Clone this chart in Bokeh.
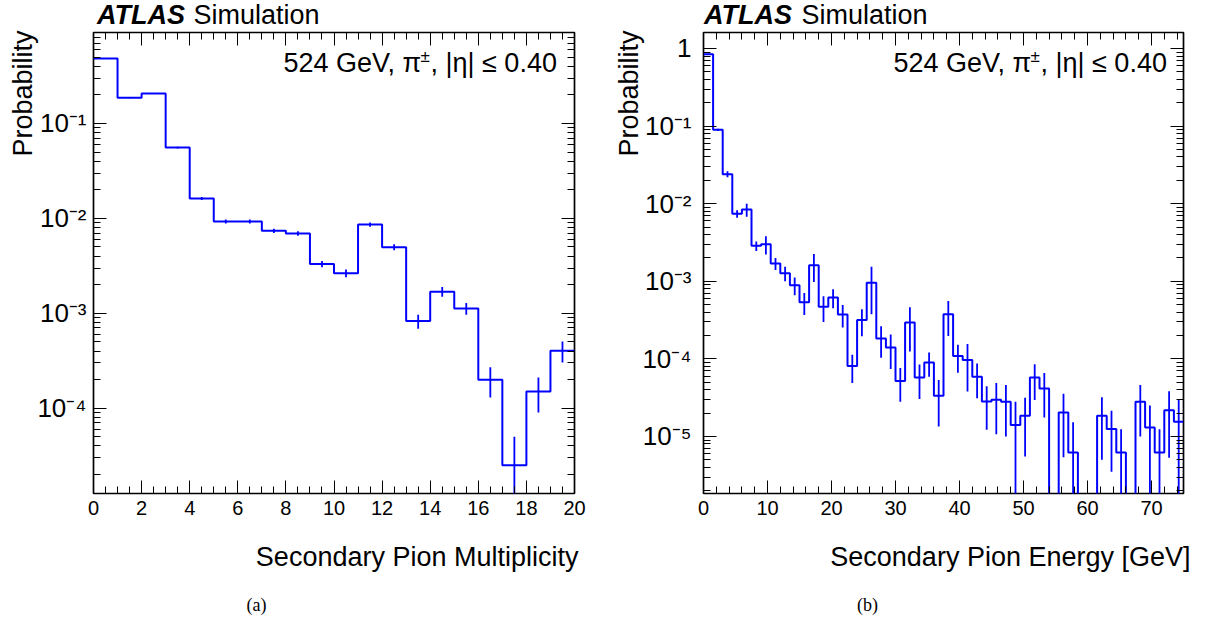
import numpy as np
from bokeh.plotting import figure
from bokeh.models import (FixedTicker, SingleIntervalTicker, LinearAxis, LogAxis,
                          Label, ColumnDataSource, CustomJSTickFormatter, Range1d)
from bokeh.layouts import row
from bokeh.embed import file_html
from bokeh.resources import INLINE

# ---------------- data: panel (a) secondary pion multiplicity ----------------
mult_edges = list(range(0, 21))
mult_prob = [0.484, 0.187, 0.207, 0.0558, 0.0162, 0.00927, 0.00927, 0.0074, 0.00693,
             0.0033, 0.00265, 0.00862, 0.00498, 0.000828, 0.00169, 0.001125, 0.0002,
             2.5e-5, 0.00015, 0.000403]
mult_err = [0.0035, 0.0022, 0.0023, 0.0012, 0.0006, 0.00045, 0.00045, 0.00038, 0.00037,
            0.00025, 0.00025, 0.00045, 0.00035, 0.00014, 0.0002, 0.00016, 7e-5,
            2.5e-5, 6e-5, 1e-4]
mult_xticks = [0, 2, 4, 6, 8, 10, 12, 14, 16, 18, 20]

# ---------------- data: panel (b) secondary pion energy [GeV] ----------------
energy_bin_width = 1.5
energy_prob = [0.845, 0.0895, 0.0240, 0.0074, 0.0084, 0.00286, 0.00301, 0.00170, 0.00127,
               0.00089, 0.000538, 0.00161, 0.000469, 0.000618, 0.000373, 8.1e-5, 0.000316,
               0.000955, 0.000183, 0.000140, 5.2e-5, 0.000294, 5.75e-5, 9.0e-5, 3.34e-5,
               0.000377, 0.000109, 9.7e-5, 5.9e-5, 2.82e-5, 2.97e-5, 2.8e-5, 1.4e-5,
               1.85e-5, 5.75e-5, 4.16e-5, 0.0, 2.04e-5, 6.2e-6, 0.0, 0.0, 1.85e-5,
               1.25e-5, 6.2e-6, 0.0, 2.8e-5, 1.3e-5, 6.2e-6, 2.18e-5, 1.55e-5]
energy_err = [0.012, 0.0028, 0.0021, 0.0008, 0.0016, 0.0004, 0.0008, 0.0003, 0.00027,
              0.00023, 0.00017, 0.00063, 0.00017, 0.00017, 0.00012, 3.2e-5, 0.00012,
              0.00058, 8e-5, 6.6e-5, 2.4e-5, 0.00017, 2.7e-5, 3.1e-5, 2.0e-5,
              0.00018, 4.3e-5, 5.9e-5, 2.8e-5, 1.6e-5, 1.9e-5, 1.8e-5, 1.4e-5,
              1.3e-5, 2.8e-5, 2.4e-5, 0.0, 1.5e-5, 9e-6, 0.0, 0.0, 1.35e-5,
              9e-6, 6.2e-6, 0.0, 1.8e-5, 1.2e-5, 6.2e-6, 1.65e-5, 1.5e-5]
energy_xticks = [0, 10, 20, 30, 40, 50, 60, 70]

FONT = "Liberation Sans"
BLUE = "#0000ff"
TINY = 1e-12

FRAME_H = 461
FIG_H = 626
TOP = 32
BOTTOM = FIG_H - TOP - FRAME_H

SUP_JS = """
const e = Math.round(Math.log10(tick));
if (e === 0) { return "1"; }
const sup = {"-": "\\u207b", "0": "\\u2070", "1": "\\u00b9", "2": "\\u00b2", "3": "\\u00b3",
             "4": "\\u2074", "5": "\\u2075", "6": "\\u2076", "7": "\\u2077", "8": "\\u2078",
             "9": "\\u2079"};
return "10" + String(e).split("").map(c => sup[c]).join("");
"""


def blank():
    return CustomJSTickFormatter(code="return ''")


def style_axis(ax):
    ax.axis_line_color = None
    ax.major_tick_in = 13
    ax.major_tick_out = 0
    ax.minor_tick_in = 7
    ax.minor_tick_out = 0
    ax.major_tick_line_color = "black"
    ax.minor_tick_line_color = "black"
    ax.major_tick_line_width = 1
    ax.minor_tick_line_width = 1


def label(p, text, x, y, size, align="left", baseline="middle", style="normal",
          font=FONT, angle=0.0):
    p.add_layout(Label(x=x, y=y, x_units="screen", y_units="screen", text=text,
                       text_font=font, text_font_size=f"{size}px", text_align=align,
                       text_baseline=baseline, text_font_style=style, angle=angle,
                       text_color="black"))


def panel(edges, vals, errs, xr, yr, xmajor, xminor_n, decades, width, left, right,
          ystandoff):
    p = figure(width=width, height=FIG_H, x_range=Range1d(*xr), y_range=Range1d(*yr),
               y_axis_type="log", output_backend="svg", toolbar_location=None,
               min_border_left=left, min_border_right=right, min_border_top=TOP,
               min_border_bottom=BOTTOM)
    p.background_fill_color = "white"
    p.border_fill_color = "white"
    p.outline_line_color = "black"
    p.outline_line_width = 1.7
    p.xgrid.visible = False
    p.ygrid.visible = False

    minor = [k * d for d in decades for k in range(2, 10)]
    yticker = FixedTicker(ticks=decades, minor_ticks=minor)
    xticker = SingleIntervalTicker(interval=xmajor, num_minor_ticks=xminor_n)

    xa = p.xaxis[0]
    xa.ticker = xticker
    style_axis(xa)
    xa.major_label_text_font = FONT
    xa.major_label_text_font_size = "20px"
    xa.major_label_text_color = "black"
    xa.major_label_standoff = 7

    ya = p.yaxis[0]
    ya.ticker = yticker
    ya.formatter = CustomJSTickFormatter(code=SUP_JS)
    style_axis(ya)
    ya.major_label_text_font = FONT
    ya.major_label_text_font_size = "26px"
    ya.major_label_text_color = "black"
    ya.major_label_standoff = ystandoff

    top_ax = LinearAxis(ticker=xticker, formatter=blank())
    style_axis(top_ax)
    p.add_layout(top_ax, "above")
    right_ax = LogAxis(ticker=yticker, formatter=blank())
    style_axis(right_ax)
    p.add_layout(right_ax, "right")

    # histogram outline drawn from the bin contents
    x_step = list(edges)
    y_step = [v if v > 0 else TINY for v in vals] + [vals[-1] if vals[-1] > 0 else TINY]
    p.step(x=x_step, y=y_step, mode="after", line_color=BLUE, line_width=2)

    centers = [(edges[i] + edges[i + 1]) / 2 for i in range(len(vals))]
    src = ColumnDataSource(dict(
        x=[c for c, v in zip(centers, vals) if v > 0],
        lo=[max(v - e, TINY) for v, e in zip(vals, errs) if v > 0],
        hi=[v + e for v, e in zip(vals, errs) if v > 0]))
    p.segment(x0="x", y0="lo", x1="x", y1="hi", source=src, line_color=BLUE,
              line_width=1.8)

    # energy / particle / eta label inside the frame (frame-relative, y up)
    x0 = 190
    label(p, "524 GeV, \u03c0", x0, 431, 27)
    label(p, "\u00b1", x0 + 137, 437, 17)
    label(p, ", |\u03b7| \u2264 0.40", x0 + 147, 431, 27)
    return p


energy_edges = [i * energy_bin_width for i in range(len(energy_prob) + 1)]

p1 = panel(mult_edges, mult_prob, mult_err, (0, 20), (1.262e-5, 0.9097), 2, 4,
           [1e-5, 1e-4, 1e-3, 1e-2, 1e-1, 1.0], 608, 93, 34, 7)
p2 = panel(energy_edges, energy_prob, energy_err, (0, 75), (1.84e-6, 1.607), 10, 5,
           [1e-6, 1e-5, 1e-4, 1e-3, 1e-2, 1e-1, 1.0], 587, 95, 12, 12)

# ---------------- page-level texts (titles, axis titles, captions) ----------------
OW, OH = 1200, 626
ov = figure(width=OW, height=OH, x_range=Range1d(0, OW), y_range=Range1d(0, OH),
            x_axis_type=None, y_axis_type=None, toolbar_location=None,
            output_backend="svg", min_border=0,
            styles={"position": "absolute", "left": "0px", "top": "0px"})
ov.background_fill_color = None
ov.border_fill_color = None
ov.outline_line_color = None
ov.xgrid.visible = False
ov.ygrid.visible = False


def page_text(text, x, y_page, size, **kw):
    label(ov, text, x, OH - y_page, size, **kw)


for ax_x, sim_x in [(96.5, 193), (703.5, 801)]:
    page_text("ATLAS", ax_x, 14, 27, style="bold italic")
    page_text("Simulation", sim_x, 14, 27)
page_text("Probability", 22, 30, 27, align="right", angle=np.pi / 2)
page_text("Probability", 628, 30, 27, align="right", angle=np.pi / 2)
page_text("Secondary Pion Multiplicity", 578, 556.5, 27, align="right")
page_text("Secondary Pion Energy [GeV]", 1190, 556.5, 27, align="right")
page_text("(a)", 256, 604, 18, align="center", font="Liberation Serif")
page_text("(b)", 867, 604, 18, align="center", font="Liberation Serif")

layout = row(p1, p2)
open("out.html", "w").write(file_html([layout, ov], INLINE))
